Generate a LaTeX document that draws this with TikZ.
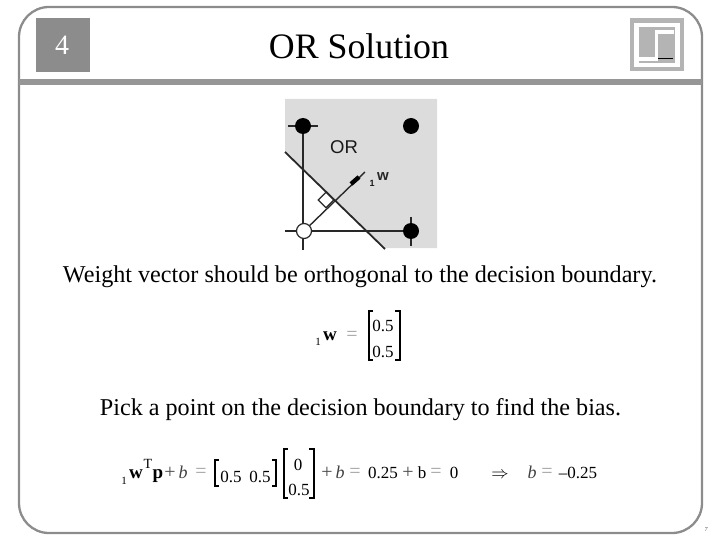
\documentclass[tikz,border=0pt]{standalone}
\usepackage{fontspec}
\setmainfont{Liberation Serif}
\setsansfont{Liberation Sans}
\usetikzlibrary{shapes.geometric,backgrounds}
\definecolor{framegray}{HTML}{8C8C8C}
\definecolor{bandgray}{HTML}{969696}
\definecolor{logogray}{HTML}{B4B4B4}
\definecolor{panelgray}{HTML}{DCDCDC}
\definecolor{plotline}{HTML}{282828}
\definecolor{eqgray}{HTML}{A0A0A0}
\tikzset{
  txt/.style={inner sep=0pt,anchor=base,text=black},
  eq/.style={txt,font=\fontsize{17}{20}\selectfont},
  eqb/.style={txt,font=\fontsize{19}{22}\selectfont\bfseries},
  eqi/.style={txt,font=\fontsize{18}{20}\selectfont\itshape,text=black!75},
  eqs/.style={txt,font=\fontsize{11}{13}\selectfont},
  eqe/.style={txt,font=\fontsize{20}{22}\selectfont,text=eqgray},
  eqp/.style={txt,font=\fontsize{20}{22}\selectfont,text=black!70},
  body/.style={txt,font=\fontsize{24.15}{28}\selectfont},
  dot/.style={circle,fill=black,inner sep=0pt,minimum size=16pt},
  hollow/.style={circle,draw=plotline,fill=white,line width=1.2pt,inner sep=0pt,minimum size=15pt},
  plot/.style={draw=plotline,line width=1.8pt},
  brk/.style={draw=black,line width=2pt},
  logofill/.style={fill=logogray,draw=none},
  logowhite/.style={fill=white,draw=none},
}
\begin{document}
\begin{tikzpicture}[x=1pt,y=-1pt]
\useasboundingbox (0,0) rectangle (720,540);
% frame
\draw[framegray,line width=2.3pt,rounded corners=30pt] (19,7) rectangle (702,533);
\fill[bandgray] (19,79) rectangle (702,85);
\node[fill=framegray,minimum width=54pt,minimum height=54pt,inner sep=0pt,text=white,font=\fontsize{28}{32}\selectfont] (num) at (63,45) {};
\node[txt,font=\fontsize{28}{32}\selectfont,text=white] (numtxt) at (62,55) {4};
\node[txt,font=\fontsize{35.8}{40}\selectfont] (title) at (359,59) {OR Solution};
% logo
\fill[logofill] (630,18) rectangle (684,71);
\fill[logowhite] (634,23) rectangle (680,67);
\fill[logofill] (639,27) rectangle (675,63);
\fill[logowhite] (655,30) rectangle (674,34);
\fill[logowhite] (655,30) rectangle (658,61);
\fill[logowhite] (639,57) rectangle (658,61);
\draw[black,line width=.8pt] (658,58.7) -- (673,58.7);
% plot
\node[dot] (tl) at (303,126) {};
\node[dot] (tr) at (411,126) {};
\node[dot] (br) at (411,231) {};
\node[hollow] (bl) at (304,231) {};
\node[diamond,draw=plotline,fill=white,line width=1.2pt,inner sep=0pt,minimum size=16pt] (perp) at (326,200) {};
\coordinate (tickTL) at (288,126);
\coordinate (tickTR) at (318,126);
\coordinate (tickLeft) at (285,231);
\coordinate (tickDown) at (303,250);
\coordinate (tickBRu) at (411,217);
\coordinate (tickBRd) at (411,246);
\coordinate (bndA) at (285,152);
\coordinate (bndB) at (385,249);
\coordinate (wTip) at (365,172);
\coordinate (wA) at (351,184);
\coordinate (wB) at (359,177);
\begin{scope}[on background layer]
  \fill[panelgray] (285,99) -- (437,99) -- (437,248) -- (384,248) -- (285,152) -- cycle;
  \draw[plot] (tickTL) -- (tickTR);
  \draw[plot] (tl) -- (tickDown);
  \draw[plot] (tickLeft) -- (br);
  \draw[plot] (tickBRu) -- (tickBRd);
  \draw[plot] (bndA) -- (bndB);
  \draw[draw=plotline,line width=1.4pt] (bl) -- (wTip);
  \draw[draw=black,line width=4.4pt] (wA) -- (wB);
\end{scope}
\node[txt,font=\sffamily\fontsize{18.5}{20}\selectfont,text=black!90] (orlab) at (344,153.5) {OR};
\node[txt,font=\sffamily\bfseries\fontsize{9}{10}\selectfont,text=black!90] (wsub) at (372,186.5) {1};
\node[txt,font=\sffamily\bfseries\fontsize{15}{16}\selectfont,text=black!85] (wlab) at (383,181) {w};
% text
\node[body] (line1) at (360,282) {Weight vector should be orthogonal to the decision boundary.};
\node[body] (line2) at (360.5,415) {Pick a point on the decision boundary to find the bias.};
% equation 1
\node[eqs] (e1s) at (318,345) {1};
\node[eqb] (e1w) at (330,340) {w};
\node[eqe] (e1e) at (352,340) {=};
\node[eq] (e1a) at (383,331) {0.5};
\node[eq] (e1b) at (383,357) {0.5};
\draw[brk] (373,310.5) -- (368.5,310.5) -- (368.5,359.5) -- (373,359.5);
\draw[brk] (395,310.5) -- (399.5,310.5) -- (399.5,359.5) -- (395,359.5);
% equation 2
\node[eqs] (e2s) at (124,484) {1};
\node[eqb] (e2w) at (136,478) {w};
\node[txt,font=\fontsize{14}{16}\selectfont] (e2t) at (148,468) {T};
\node[eqb] (e2p) at (158,478) {p};
\node[eqp] (e2plus) at (170,478) {+};
\node[eqi] (e2b) at (183,478) {b};
\node[eqe] (e2e) at (201,477) {=};
\draw[brk] (219,459.5) -- (215,459.5) -- (215,485.5) -- (219,485.5);
\node[eq] (e2m1) at (231,482) {0.5};
\node[eq] (e2m2) at (260,482) {0.5};
\draw[brk] (272,459.5) -- (276,459.5) -- (276,485.5) -- (272,485.5);
\draw[brk] (288,448.5) -- (283.5,448.5) -- (283.5,497.5) -- (288,497.5);
\node[eq] (e2v1) at (298,470) {0};
\node[eq] (e2v2) at (299,495) {0.5};
\draw[brk] (309,448.5) -- (313.5,448.5) -- (313.5,497.5) -- (309,497.5);
\node[eqp] (e2plusb) at (327,478) {+};
\node[eqi] (e2bb) at (340,478) {b};
\node[eqe] (e2eb) at (355,477) {=};
\node[eq] (e2val) at (383,478) {0.25};
\node[eqp] (e2plusc) at (408,478) {+};
\node[eq] (e2bc) at (422,478) {b};
\node[eqe] (e2ec) at (436,477) {=};
\node[eq] (e2zero) at (454,478) {0};
\node[txt,font=\fontsize{19}{22}\selectfont] (e2imp) at (500,478) {$\Rightarrow$};
\node[eqi] (e2bd) at (532,478) {b};
\node[eqe] (e2ed) at (547,477) {=};
\node[eq] (e2res) at (578,478) {--0.25};
% page number
\node[txt,font=\fontsize{6}{7}\selectfont\itshape,text=black!70] (page) at (706,531) {7};
\end{tikzpicture}
\end{document}
